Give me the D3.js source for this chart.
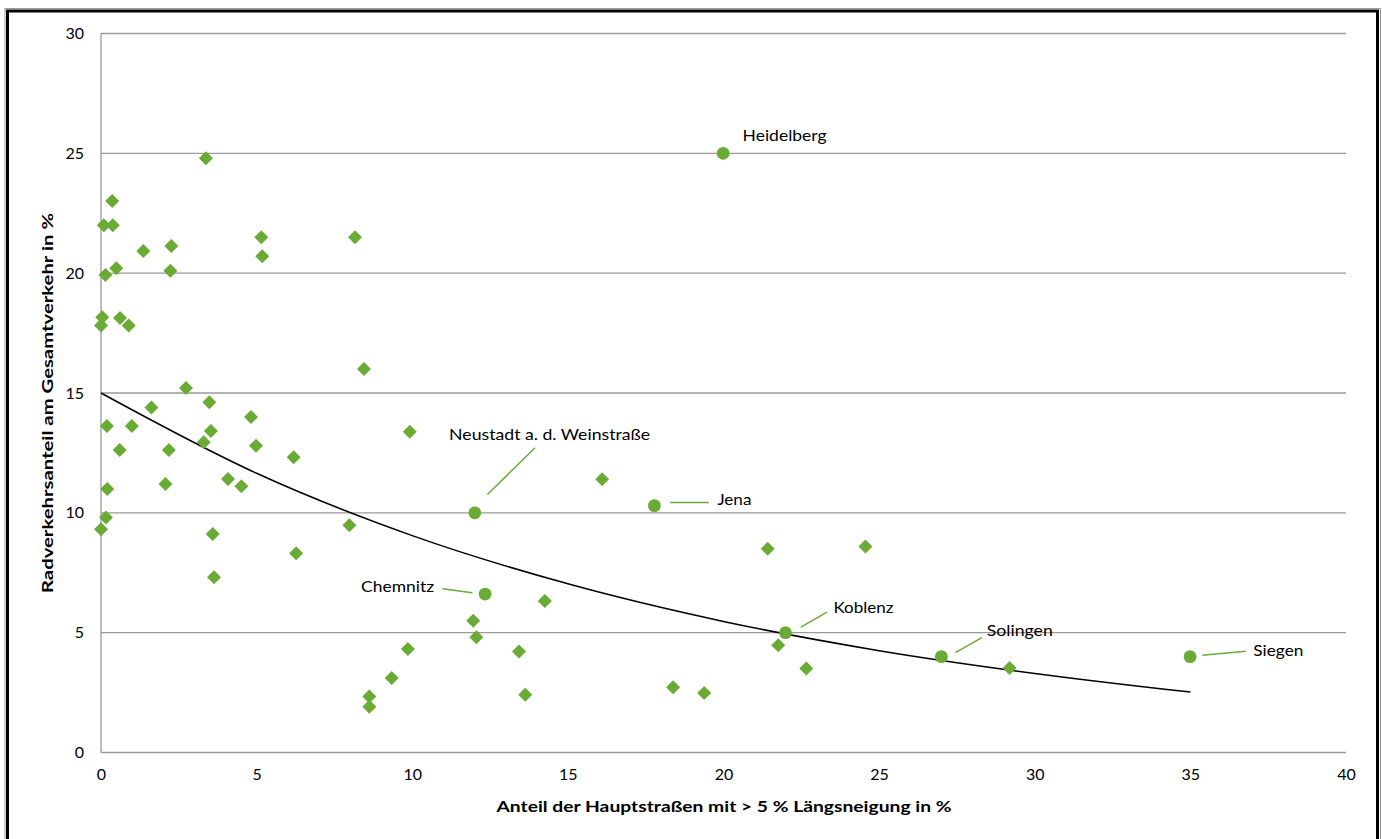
<!DOCTYPE html>
<html>
<head>
<meta charset="utf-8">
<script src="https://cdn.jsdelivr.net/npm/d3@7/dist/d3.min.js"></script>
<style>
  html, body { margin: 0; padding: 0; background: #fff; }
  svg { display: block; }
  text { font-family: Lato, "Open Sans", "Liberation Sans", sans-serif; fill: #000; }
</style>
</head>
<body>
<svg id="chart" width="1382" height="839"></svg>
<script>
// ---------- DATA ----------
const xTicks = [0, 5, 10, 15, 20, 25, 30, 35, 40];
const yTicks = [0, 5, 10, 15, 20, 25, 30];

// Unlabelled cities (diamonds): share of steep main roads (%) and cycling share (%)
const cityX = [3.37, 0.36, 0.09, 0.38, 1.36, 2.26, 5.15, 5.18, 8.16, 0.49,
               0.14, 2.23, 0.04, 0.61, 0.00, 0.89, 8.45, 2.73, 1.62, 3.48,
               4.82, 0.19, 0.99, 3.53, 9.92, 3.30, 4.98, 0.60, 2.18, 6.19,
               4.08, 4.51, 2.07, 0.20, 0.16, 0.00, 3.59, 7.98, 6.27, 3.63,
               16.10, 21.42, 24.56, 14.26, 11.96, 12.06, 13.43, 9.86, 9.34, 8.62,
               8.62, 13.63, 18.38, 19.38, 21.76, 22.66, 29.19];
const cityY = [24.79, 23.01, 22.00, 22.00, 20.92, 21.13, 21.50, 20.71, 21.50, 20.21,
               19.92, 20.10, 18.16, 18.13, 17.82, 17.82, 16.00, 15.21, 14.40, 14.61,
               14.00, 13.62, 13.62, 13.41, 13.38, 12.94, 12.80, 12.62, 12.62, 12.32,
               11.41, 11.11, 11.20, 10.99, 9.81, 9.32, 9.12, 9.48, 8.31, 7.31,
               11.40, 8.50, 8.60, 6.32, 5.50, 4.81, 4.21, 4.32, 3.11, 2.34,
               1.91, 2.41, 2.72, 2.48, 4.48, 3.51, 3.53];

// Labelled cities (circles)
const namedCities = ["Heidelberg", "Neustadt a. d. Weinstraße", "Jena", "Chemnitz", "Koblenz", "Solingen", "Siegen"];
const namedX = [19.99, 12.01, 17.78, 12.34, 21.99, 27.00, 34.99];
const namedY = [25.00, 10.00, 10.30, 6.61, 5.00, 4.00, 4.00];

// Trend line
const trendX = [0, 5, 10, 15, 20, 25, 30, 35];
const trendY = [15.0, 11.65, 9.05, 7.04, 5.47, 4.25, 3.30, 2.52];

const xTitle = "Anteil der Hauptstraßen mit > 5 % Längsneigung in %";
const yTitle = "Radverkehrsanteil am Gesamtverkehr in %";

// ---------- LAYOUT / STYLE ----------
const plot = { left: 101, right: 1346, top: 33.5, bottom: 752.5 };
const green = "#6aab35";
const gridColor = "#9a9a9a";
// label placement: text offset (tx, ty), anchor, leader line (l1 -> l2), width
const labelLayout = {
  "Heidelberg":               { tx: 19.4, ty: -17.7, anchor: "start", w: 84 },
  "Neustadt a. d. Weinstraße":{ tx: -25.7, ty: -78.7, anchor: "start", w: 201, l1: [12.6, -18.4], l2: [60.3, -65] },
  "Jena":                     { tx: 63, ty: -6.5, anchor: "start", w: 34, l1: [15.7, -3.2], l2: [54.4, -3.2] },
  "Chemnitz":                 { tx: -51, ty: -7.3, anchor: "end", w: 73, l1: [-42.7, -5.3], l2: [-12.7, -1.3] },
  "Koblenz":                  { tx: 48, ty: -25.6, anchor: "start", w: 60, l1: [15.4, -5.6], l2: [41.4, -20.6] },
  "Solingen":                 { tx: 45.4, ty: -26.7, anchor: "start", w: 66, l1: [14, -4], l2: [40.4, -19] },
  "Siegen":                   { tx: 63.3, ty: -6.7, anchor: "start", w: 50, l1: [12.3, -1.4], l2: [55.7, -5.4] }
};

const svg = d3.select("#chart");
svg.append("rect").attr("width", 1382).attr("height", 839).attr("fill", "#fff");

// frame
svg.append("rect").attr("x", 5).attr("y", 8.5).attr("width", 1375.5).attr("height", 860)
  .attr("fill", "none").attr("stroke", "#9a9a9a").attr("stroke-width", 1);
svg.append("rect").attr("x", 7.5).attr("y", 11).attr("width", 1370).attr("height", 860)
  .attr("fill", "none").attr("stroke", "#000").attr("stroke-width", 3);

const x = d3.scaleLinear().domain([0, 40]).range([plot.left, plot.right]);
const y = d3.scaleLinear().domain([0, 30]).range([plot.bottom, plot.top]);

// gridlines
svg.append("g").selectAll("line").data(yTicks).join("line")
  .attr("x1", plot.left).attr("x2", plot.right)
  .attr("y1", d => y(d)).attr("y2", d => y(d))
  .attr("stroke", gridColor).attr("stroke-width", 1.3);
// y axis line
svg.append("line").attr("x1", plot.left).attr("x2", plot.left)
  .attr("y1", plot.top).attr("y2", plot.bottom)
  .attr("stroke", gridColor).attr("stroke-width", 1.3);

// axes (labels only)
const yAxis = d3.axisLeft(y).tickValues(yTicks).tickSize(0).tickPadding(17);
const gy = svg.append("g").attr("transform", `translate(${plot.left},0)`).call(yAxis);
gy.select(".domain").remove();
gy.selectAll("text").style("font-size", "16px").style("font-family", "Lato, 'Open Sans', sans-serif").attr("fill", "#000");

const xAxis = d3.axisBottom(x).tickValues(xTicks).tickSize(0).tickPadding(16);
const gx = svg.append("g").attr("transform", `translate(0,${plot.bottom})`).call(xAxis);
gx.select(".domain").remove();
gx.selectAll("text").style("font-size", "16px").style("font-family", "Lato, 'Open Sans', sans-serif").attr("fill", "#000");

// axis titles
svg.append("text").attr("x", 724).attr("y", 812).attr("text-anchor", "middle")
  .attr("font-weight", "bold").attr("font-size", 16)
  .attr("textLength", 455).attr("lengthAdjust", "spacingAndGlyphs").text(xTitle);
svg.append("text").attr("transform", "translate(53,403) rotate(-90)")
  .attr("text-anchor", "middle").attr("font-weight", "bold").attr("font-size", 16)
  .attr("textLength", 380).attr("lengthAdjust", "spacingAndGlyphs").text(yTitle);

// trend line
const line = d3.line().x((d, i) => x(trendX[i])).y(d => y(d)).curve(d3.curveMonotoneX);
svg.append("path").datum(trendY).attr("d", line)
  .attr("fill", "none").attr("stroke", "#000").attr("stroke-width", 1.5);

// diamonds
const diamond = d3.symbol().type(d3.symbolSquare).size(98);
svg.append("g").selectAll("path").data(cityX).join("path")
  .attr("d", diamond)
  .attr("transform", (d, i) => `translate(${x(d)},${y(cityY[i])}) rotate(45)`)
  .attr("fill", green);

// named cities
const gn = svg.append("g");
namedCities.forEach((name, i) => {
  const px = x(namedX[i]), py = y(namedY[i]);
  const L = labelLayout[name];
  if (L.l1) {
    gn.append("line")
      .attr("x1", px + L.l1[0]).attr("y1", py + L.l1[1])
      .attr("x2", px + L.l2[0]).attr("y2", py + L.l2[1])
      .attr("stroke", green).attr("stroke-width", 1.5);
  }
  gn.append("circle").attr("cx", px).attr("cy", py).attr("r", 6.4).attr("fill", green);
  gn.append("text").attr("x", px + L.tx).attr("y", py + L.ty).attr("dy", "0.35em")
    .attr("text-anchor", L.anchor).attr("font-size", 16)
    .attr("textLength", L.w).attr("lengthAdjust", "spacingAndGlyphs").text(name);
});
</script>
</body>
</html>
